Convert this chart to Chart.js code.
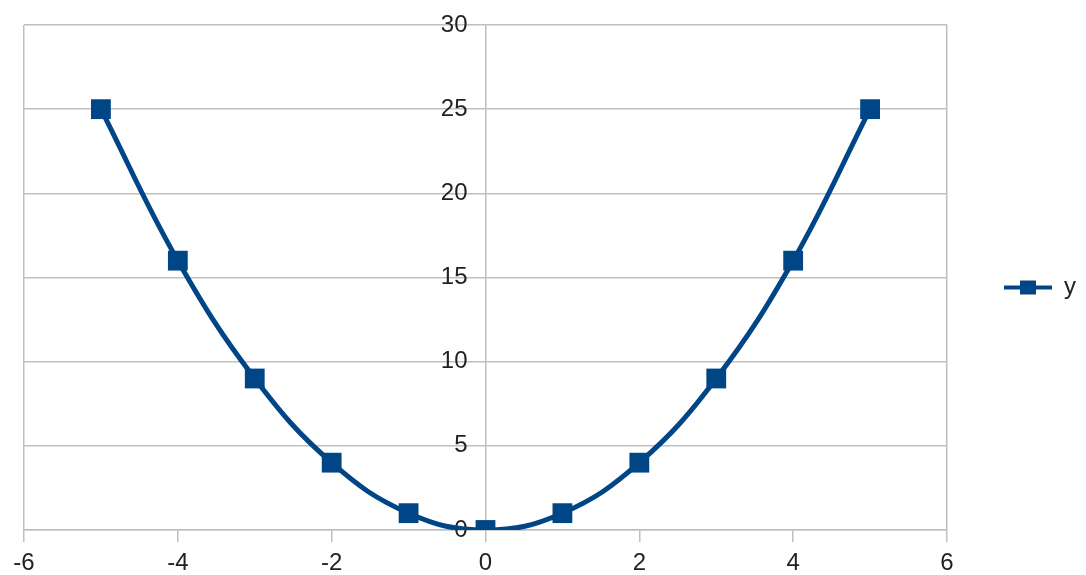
<!DOCTYPE html>
<html>
<head>
<meta charset="utf-8">
<script src="https://cdn.jsdelivr.net/npm/chart.js@4/dist/chart.umd.min.js"></script>
<style>
  html, body { margin: 0; padding: 0; background: #fff; }
  #wrap { width: 1086px; height: 575px; }
</style>
</head>
<body>
<div id="wrap"><canvas id="parabola"></canvas></div>
<script>
const xValues = [ -5, -4, -3, -2, -1, 0, 1, 2, 3, 4, 5 ]
const yValues = [ 25, 16, 9, 4, 1, 0, 1, 4, 9, 16, 25 ]
const seriesName = 'y'

const blue = '#004586'
const gridGray = '#bfbfbf'
const textColor = '#222'
const labelFont = { family: 'Liberation Sans', size: 24 }

// legend symbol: line with a square on it (left part left empty as spacing)
const legendIcon = document.createElement( 'canvas' )
legendIcon.width = 103
legendIcon.height = 20
const ictx = legendIcon.getContext( '2d' )
ictx.fillStyle = blue
ictx.fillRect( 55, 8, 48, 4 )
ictx.fillRect( 71, 3, 16, 14 )

const points = xValues.map( ( x, i ) => ( { x: x, y: yValues[ i ] } ) )

const data = {
  datasets: [ {
    label: seriesName,
    data: points,
    showLine: true,
    borderColor: blue,
    backgroundColor: blue,
    borderWidth: 5,
    tension: 0.4,
    pointStyle: 'rect',
    pointRadius: 14,
    pointHoverRadius: 14,
    pointBorderWidth: 0
  } ]
}

const config = {
  type: 'scatter',
  data: data,
  options: {
    responsive: true,
    maintainAspectRatio: false,
    animation: false,
    layout: { padding: { left: 24, right: 0, top: 25, bottom: 0 } },
    plugins: {
      tooltip: { enabled: false },
      legend: {
        position: 'right',
        fullSize: false,
        // empty title only nudges the legend entry down a bit
        title: { display: true, text: ' ', font: { size: 10 }, padding: 4 },
        labels: {
          color: textColor,
          font: labelFont,
          usePointStyle: true,
          pointStyleWidth: 103,
          padding: 2,
          generateLabels: chart => [ {
            text: seriesName,
            pointStyle: legendIcon,
            fontColor: textColor,
            datasetIndex: 0
          } ]
        }
      }
    },
    scales: {
      x: {
        type: 'linear',
        min: -6,
        max: 6,
        afterFit: scale => { scale.height = 45 },
        ticks: {
          stepSize: 2,
          color: textColor,
          font: labelFont,
          padding: 7
        },
        grid: {
          color: ctx => ( ctx.tick && Math.abs( ctx.tick.value ) === 6 ) ? gridGray : 'rgba(0,0,0,0)',
          tickColor: gridGray,
          tickLength: 12,
          lineWidth: 1.5
        },
        border: { color: gridGray, width: 1.5 }
      },
      y: {
        position: { x: 0 },
        min: 0,
        max: 30,
        ticks: {
          stepSize: 5,
          color: textColor,
          font: labelFont,
          // labels are right-aligned on the axis; trailing spaces give the gap
          callback: v => v + '\u2002\u2005'
        },
        grid: {
          color: gridGray,
          lineWidth: 1.5,
          drawTicks: false
        },
        border: { color: gridGray, width: 1.5 }
      }
    }
  }
}

const graph = new Chart( document.getElementById( 'parabola' ), config )
</script>
</body>
</html>
